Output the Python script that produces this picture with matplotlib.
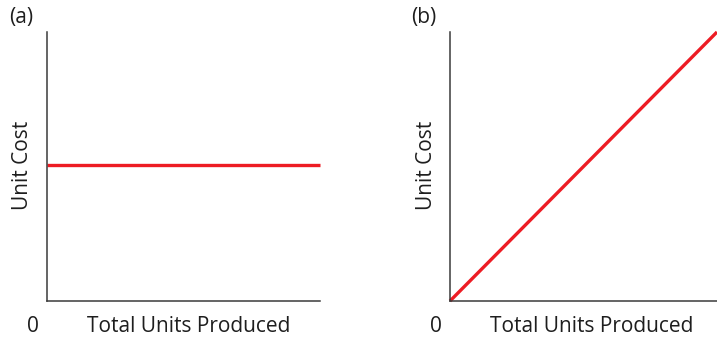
import matplotlib
matplotlib.use("Agg")
import matplotlib.pyplot as plt

plt.rcParams['font.family'] = ['Open Sans', 'DejaVu Sans']

# Panel (a): constant unit cost; panel (b): rising unit cost
units = [0, 1]
cost_a = [0.505, 0.505]
cost_b = [0.0, 1.0]
panel_labels = ["(a)", "(b)"]
x_label = "Total Units Produced"
y_label = "Unit Cost"
origin_label = "0"

red = "#ed1c24"
axis_col = "#3a3a3a"
txt_col = "#1e1e1e"
W, H = 717, 337
fig = plt.figure(figsize=(W / 100, H / 100), dpi=100)

boxes = [(47, 32, 320, 301), (450, 32, 717, 301)]
series = [cost_a, cost_b]

for (x0, y0, x1, y1), ys, lab in zip(boxes, series, panel_labels):
    ax = fig.add_axes([x0 / W, 1 - y1 / H, (x1 - x0) / W, (y1 - y0) / H])
    ax.plot(units, ys, color=red, lw=2.4, solid_capstyle='butt', clip_on=False)
    ax.set_xlim(0, 1)
    ax.set_ylim(0, 1)
    ax.set_xticks([])
    ax.set_yticks([])
    for s in ("top", "right"):
        ax.spines[s].set_visible(False)
    for s in ("left", "bottom"):
        ax.spines[s].set_color(axis_col)
        ax.spines[s].set_linewidth(1.1)
    ax.set_facecolor("none")
    fs = 15
    fig.text((x0 + 142) / W, 1 - 327 / H, x_label, ha='center', va='center',
             fontsize=fs, color=txt_col)
    fig.text((x0 - 14) / W, 1 - 327 / H, origin_label, ha='center', va='center',
             fontsize=fs, color=txt_col)
    fig.text((x0 - 24) / W, 1 - 165 / H, y_label, ha='center', va='center',
             rotation=90, fontsize=fs, color=txt_col)
    fig.text((x0 - 26) / W, 1 - 18 / H, lab, ha='center', va='center',
             fontsize=fs, color=txt_col)

fig.savefig("out.png", dpi=100)
